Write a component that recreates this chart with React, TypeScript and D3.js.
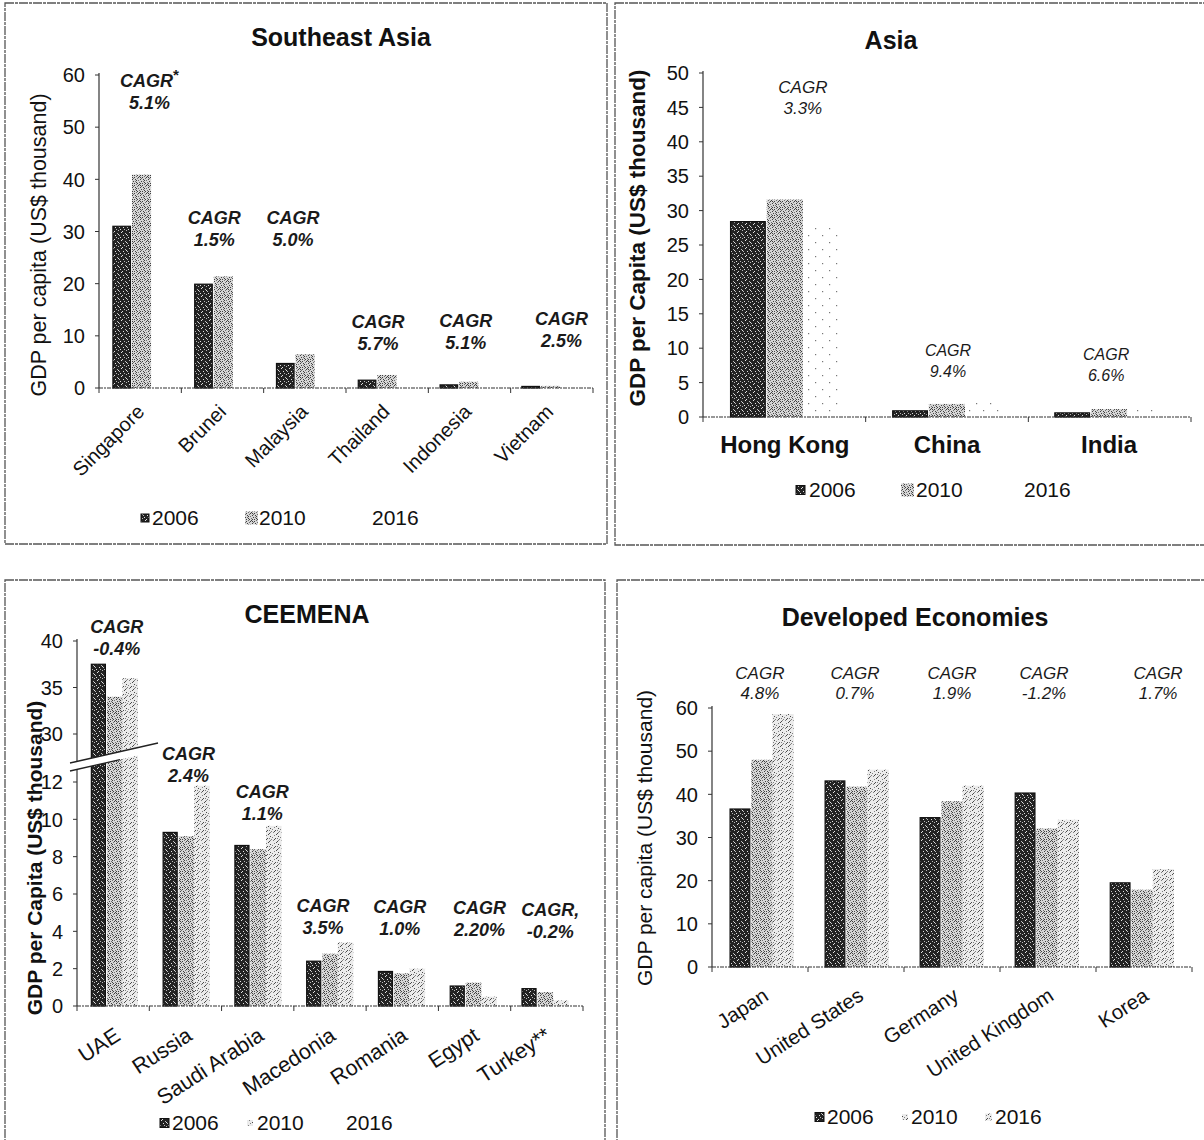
import React from "react";
import * as d3 from "d3";

const FONT = "'Liberation Sans', Arial, Helvetica, sans-serif";
const years = ["2006", "2010", "2016"];

// ---------- Southeast Asia ----------
const seaCategories = ["Singapore", "Brunei", "Malaysia", "Thailand", "Indonesia", "Vietnam"];
const sea2006 = [31.0, 19.9, 4.7, 1.5, 0.6, 0.3];
const sea2010 = [40.9, 21.4, 6.5, 2.5, 1.2, 0.4];
const sea2016 = [51.0, 23.0, 7.7, 2.6, 1.4, 0.9]; // blank (unprinted) in the source
const seaCagrHead = ["CAGR", "CAGR", "CAGR", "CAGR", "CAGR", "CAGR"];
const seaCagr = ["5.1%", "1.5%", "5.0%", "5.7%", "5.1%", "2.5%"];
const seaTicks = [0, 10, 20, 30, 40, 50, 60];

// ---------- Asia ----------
const asiaCategories = ["Hong Kong", "China", "India"];
const asia2006 = [28.4, 0.9, 0.6];
const asia2010 = [31.6, 1.9, 1.15];
const asia2016 = [28.0, 2.1, 1.1];
const asiaCagrHead = ["CAGR", "CAGR", "CAGR"];
const asiaCagr = ["3.3%", "9.4%", "6.6%"];
const asiaTicks = [0, 5, 10, 15, 20, 25, 30, 35, 40, 45, 50];

// ---------- CEEMENA ----------
const ceeCategories = ["UAE", "Russia", "Saudi Arabia", "Macedonia", "Romania", "Egypt", "Turkey**"];
const cee2006 = [37.5, 9.3, 8.6, 2.4, 1.85, 1.07, 0.93];
const cee2010 = [34.0, 9.1, 8.4, 2.8, 1.75, 1.25, 0.75];
const cee2016 = [36.0, 11.8, 9.65, 3.4, 2.0, 0.5, 0.3];
const ceeCagrHead = ["CAGR", "CAGR", "CAGR", "CAGR", "CAGR", "CAGR", "CAGR,"];
const ceeCagr = ["-0.4%", "2.4%", "1.1%", "3.5%", "1.0%", "2.20%", "-0.2%"];
const ceeTicks = [0, 2, 4, 6, 8, 10, 12, 30, 35, 40];

// ---------- Developed Economies ----------
const devCategories = ["Japan", "United States", "Germany", "United Kingdom", "Korea"];
const dev2006 = [36.6, 43.1, 34.6, 40.3, 19.5];
const dev2010 = [48.0, 41.8, 38.4, 32.1, 17.9];
const dev2016 = [58.6, 45.7, 42.0, 34.1, 22.7];
const devCagrHead = ["CAGR", "CAGR", "CAGR", "CAGR", "CAGR"];
const devCagr = ["4.8%", "0.7%", "1.9%", "-1.2%", "1.7%"];
const devTicks = [0, 10, 20, 30, 40, 50, 60];

// ---------- texture tiles (style only) ----------
const speck06 = [[1, 0], [5, 1], [3, 3], [7, 3], [0, 5], [4, 5], [2, 7], [6, 6], [6, 2]];
const speck10 = [
  [0, 0], [3, 0], [6, 1], [1, 2], [4, 3], [7, 3], [2, 4], [5, 5], [0, 6], [3, 6],
  [6, 7], [1, 7], [7, 5], [4, 1], [2, 1], [5, 2], [0, 4], [4, 7],
];
const speck16 = [[1, 0], [5, 1], [2, 3], [6, 4], [0, 5], [3, 6], [7, 7], [4, 2], [6, 0], [2, 7], [5, 6]];
const speckFaint = [[3, 4], [10, 11]];

type Ann = { dx: number; y: number; size?: number };
type LegendItem = { label: string; sx: number | null; ss: number; fill: string; tx: number };

interface PanelProps {
  frame: [number, number, number, number];
  title: string;
  titleX: number;
  titleY: number;
  categories: string[];
  series: number[][];
  fills: string[];
  strokes: string[];
  y: (v: number) => number;
  ticks: number[];
  axisX: number;
  axisEnd: number;
  axisTop: number;
  padInner: number;
  padOuter: number;
  tickSize: number;
  tickGap: number;
  yTitle: string;
  yTitleX: number;
  yTitleY: number;
  yTitleSize: number;
  yTitleWeight: string;
  catAngle: number;
  catDx: number;
  catDy: number;
  catSize: number;
  catWeight: string;
  cagrHead: string[];
  cagrVal: string[];
  cagrPos: Ann[];
  cagrSize: number;
  cagrWeight: string;
  cagrGap: number;
  starFirst?: boolean;
  legend: LegendItem[];
  legendY: number;
  legendSize: number;
  children?: React.ReactNode;
}

function Panel(p: PanelProps) {
  const x0 = d3
    .scaleBand<string>()
    .domain(p.categories)
    .range([p.axisX, p.axisEnd])
    .paddingInner(p.padInner)
    .paddingOuter(p.padOuter);
  const x1 = d3.scaleBand<string>().domain(years).range([0, x0.bandwidth()]);
  const base = p.y(0);
  const n = p.categories.length;
  const catStep = (p.axisEnd - p.axisX) / n;
  const [fx, fy, fw, fh] = p.frame;
  return (
    <g fontFamily={FONT} fill="#111">
      <rect x={fx} y={fy} width={fw} height={fh} fill="none" stroke="#555" strokeWidth={1.3} strokeDasharray="9 1 3 1" />
      <text x={p.titleX} y={p.titleY} textAnchor="middle" fontSize={25} fontWeight="bold">
        {p.title}
      </text>
      <text
        transform={`translate(${p.yTitleX},${p.yTitleY}) rotate(-90)`}
        textAnchor="middle"
        dy="0.35em"
        fontSize={p.yTitleSize}
        fontWeight={p.yTitleWeight}
      >
        {p.yTitle}
      </text>
      {/* bars */}
      {p.categories.map((c, i) =>
        years.map((yr, j) => {
          const v = p.series[j][i];
          const bx = (x0(c) as number) + (x1(yr) as number);
          const w = x1.bandwidth() - (j === 0 ? 1.5 : 0);
          return (
            <rect
              key={c + yr}
              x={bx}
              y={p.y(v)}
              width={w}
              height={base - p.y(v)}
              fill={p.fills[j]}
              stroke={p.strokes[j]}
              strokeWidth={p.strokes[j] === "none" ? 0 : 1.2}
            />
          );
        })
      )}
      {/* y axis */}
      <line x1={p.axisX} x2={p.axisX} y1={p.axisTop} y2={base} stroke="#333" strokeWidth={1.2} />
      {p.ticks.map((t) => (
        <g key={"t" + t}>
          <line x1={p.axisX - 4} x2={p.axisX} y1={p.y(t)} y2={p.y(t)} stroke="#333" strokeWidth={1} />
          <text x={p.axisX - p.tickGap} y={p.y(t)} dy="0.36em" textAnchor="end" fontSize={p.tickSize}>
            {t}
          </text>
        </g>
      ))}
      {/* x axis */}
      <line x1={p.axisX} x2={p.axisEnd} y1={base} y2={base} stroke="#333" strokeWidth={1.2} strokeDasharray="4 1 2 1" />
      {d3.range(n + 1).map((k) => (
        <line
          key={"xt" + k}
          x1={p.axisX + k * catStep}
          x2={p.axisX + k * catStep}
          y1={base}
          y2={base + 5}
          stroke="#333"
          strokeWidth={1}
        />
      ))}
      {/* category labels */}
      {p.categories.map((c) => {
        const cx = (x0(c) as number) + x0.bandwidth() / 2;
        return p.catAngle === 0 ? (
          <text key={"cl" + c} x={cx + p.catDx} y={base + p.catDy} textAnchor="middle" fontSize={p.catSize} fontWeight={p.catWeight}>
            {c}
          </text>
        ) : (
          <text
            key={"cl" + c}
            transform={`translate(${cx + p.catDx},${base + p.catDy}) rotate(${p.catAngle})`}
            textAnchor="end"
            fontSize={p.catSize}
            fontWeight={p.catWeight}
          >
            {c}
          </text>
        );
      })}
      {/* CAGR annotations */}
      {p.categories.map((c, i) => {
        const cx = (x0(c) as number) + x0.bandwidth() / 2 + p.cagrPos[i].dx;
        const fs = p.cagrPos[i].size ?? p.cagrSize;
        return (
          <text key={"cg" + c} x={cx} y={p.cagrPos[i].y} textAnchor="middle" fontSize={fs} fontStyle="italic" fontWeight={p.cagrWeight} fill="#1a1a1a">
            <tspan x={cx}>
              {p.cagrHead[i]}
              {p.starFirst && i === 0 ? (
                <tspan dy={-7} fontSize={fs * 0.85} fontStyle="normal">
                  *
                </tspan>
              ) : null}
            </tspan>
            <tspan x={cx} y={p.cagrPos[i].y + p.cagrGap}>
              {p.cagrVal[i]}
            </tspan>
          </text>
        );
      })}
      {/* legend */}
      {p.legend.map((l) => (
        <g key={"lg" + l.label}>
          {l.sx !== null ? (
            <rect
              x={l.sx}
              y={p.legendY - 7 - l.ss / 2}
              width={l.ss}
              height={l.ss}
              fill={l.fill}
              stroke={l.label === "2006" ? "#111" : "none"}
              strokeWidth={1}
            />
          ) : null}
          <text x={l.tx} y={p.legendY} fontSize={p.legendSize}>
            {l.label}
          </text>
        </g>
      ))}
      {p.children}
    </g>
  );
}

function Defs() {
  return (
    <defs>
      <pattern id="p06" width={8} height={8} patternUnits="userSpaceOnUse">
        <rect width={8} height={8} fill="#232323" />
        {speck06.map(([a, b], i) => (
          <rect key={i} x={a} y={b} width={1} height={1} fill={i % 2 ? "#b8b8b8" : "#e2e2e2"} />
        ))}
      </pattern>
      <pattern id="p10" width={8} height={8} patternUnits="userSpaceOnUse">
        <rect width={8} height={8} fill="#d6d6d6" />
        {speck10.map(([a, b], i) => (
          <rect key={i} x={a} y={b} width={1} height={1} fill={i % 3 ? "#404040" : "#707070"} />
        ))}
      </pattern>
      <pattern id="p16" width={8} height={8} patternUnits="userSpaceOnUse">
        <rect width={8} height={8} fill="#ebebeb" />
        {speck16.map(([a, b], i) => (
          <rect key={i} x={a} y={b} width={1} height={1} fill={i % 2 ? "#4a4a4a" : "#808080"} />
        ))}
      </pattern>
      <pattern id="pFaint" width={14} height={14} patternUnits="userSpaceOnUse">
        <rect width={14} height={14} fill="#ffffff" />
        {speckFaint.map(([a, b], i) => (
          <rect key={i} x={a} y={b} width={1.2} height={1.2} fill="#777" />
        ))}
      </pattern>
    </defs>
  );
}

export default function App() {
  const ySea = d3.scaleLinear().domain([0, 60]).range([388, 75]);
  const yAsia = d3.scaleLinear().domain([0, 50]).range([417, 73]);
  const yCee = d3.scaleLinear().domain([0, 12, 30, 40]).range([1006, 782, 734, 641]);
  const yDev = d3.scaleLinear().domain([0, 60]).range([967, 708]);

  return (
    <svg
      width={1204}
      height={1140}
      viewBox="0 0 1204 1140"
      style={{ position: "absolute", left: 0, top: 0, display: "block", background: "#fff" }}
    >
      <Defs />
      <rect width={1204} height={1140} fill="#fff" />

      <Panel
        frame={[5, 3, 602, 541]}
        title="Southeast Asia"
        titleX={341}
        titleY={46}
        categories={seaCategories}
        series={[sea2006, sea2010, sea2016]}
        fills={["url(#p06)", "url(#p10)", "none"]}
        strokes={["#111", "none", "none"]}
        y={ySea}
        ticks={seaTicks}
        axisX={99}
        axisEnd={593}
        axisTop={73}
        padInner={0.3}
        padOuter={0.17}
        tickSize={20}
        tickGap={14}
        yTitle="GDP per capita (US$ thousand)"
        yTitleX={38}
        yTitleY={245}
        yTitleSize={21.5}
        yTitleWeight="normal"
        catAngle={-45}
        catDx={4}
        catDy={25}
        catSize={20}
        catWeight="normal"
        cagrHead={seaCagrHead}
        cagrVal={seaCagr}
        cagrPos={[
          { dx: 8, y: 87 },
          { dx: -9, y: 224 },
          { dx: -12, y: 224 },
          { dx: -9, y: 328 },
          { dx: -3, y: 327 },
          { dx: 11, y: 325 },
        ]}
        cagrSize={18}
        cagrWeight="bold"
        cagrGap={22}
        starFirst
        legend={[
          { label: "2006", sx: 141, ss: 8, fill: "url(#p06)", tx: 152 },
          { label: "2010", sx: 245, ss: 13, fill: "url(#p10)", tx: 259 },
          { label: "2016", sx: null, ss: 0, fill: "none", tx: 372 },
        ]}
        legendY={525}
        legendSize={21}
      />

      <Panel
        frame={[615, 3, 600, 542]}
        title="Asia"
        titleX={891}
        titleY={49}
        categories={asiaCategories}
        series={[asia2006, asia2010, asia2016]}
        fills={["url(#p06)", "url(#p10)", "url(#pFaint)"]}
        strokes={["#111", "none", "none"]}
        y={yAsia}
        ticks={asiaTicks}
        axisX={703}
        axisEnd={1191}
        axisTop={71}
        padInner={0.33}
        padOuter={0.17}
        tickSize={20}
        tickGap={14}
        yTitle="GDP per Capita (US$ thousand)"
        yTitleX={637}
        yTitleY={238}
        yTitleSize={22.5}
        yTitleWeight="bold"
        catAngle={0}
        catDx={0}
        catDy={36}
        catSize={24}
        catWeight="bold"
        cagrHead={asiaCagrHead}
        cagrVal={asiaCagr}
        cagrPos={[
          { dx: 18, y: 93, size: 17 },
          { dx: 1, y: 356 },
          { dx: -3, y: 360 },
        ]}
        cagrSize={16}
        cagrWeight="normal"
        cagrGap={21}
        legend={[
          { label: "2006", sx: 796, ss: 9, fill: "url(#p06)", tx: 809 },
          { label: "2010", sx: 901, ss: 13, fill: "url(#p10)", tx: 916 },
          { label: "2016", sx: null, ss: 0, fill: "none", tx: 1024 },
        ]}
        legendY={497}
        legendSize={21}
      />

      <Panel
        frame={[5, 580, 600, 575]}
        title="CEEMENA"
        titleX={307}
        titleY={623}
        categories={ceeCategories}
        series={[cee2006, cee2010, cee2016]}
        fills={["url(#p06)", "url(#p10)", "url(#p16)"]}
        strokes={["#111", "none", "none"]}
        y={yCee}
        ticks={ceeTicks}
        axisX={77}
        axisEnd={583}
        axisTop={639}
        padInner={0.35}
        padOuter={0.2}
        tickSize={20}
        tickGap={14}
        yTitle="GDP per Capita (US$ thousand)"
        yTitleX={35}
        yTitleY={858}
        yTitleSize={21}
        yTitleWeight="bold"
        catAngle={-33}
        catDx={7}
        catDy={33}
        catSize={21.5}
        catWeight="normal"
        cagrHead={ceeCagrHead}
        cagrVal={ceeCagr}
        cagrPos={[
          { dx: 2, y: 633 },
          { dx: 2, y: 760 },
          { dx: 4, y: 798 },
          { dx: -7, y: 912 },
          { dx: -2, y: 913 },
          { dx: 6, y: 914 },
          { dx: 5, y: 916 },
        ]}
        cagrSize={18}
        cagrWeight="bold"
        cagrGap={22}
        legend={[
          { label: "2006", sx: 160, ss: 9, fill: "url(#p06)", tx: 172 },
          { label: "2010", sx: 247, ss: 6, fill: "url(#p16)", tx: 257 },
          { label: "2016", sx: null, ss: 0, fill: "none", tx: 346 },
        ]}
        legendY={1130}
        legendSize={21}
      >
        {/* axis break */}
        <polygon points="70,763 158,743 158,751 70,771" fill="#fff" />
        <line x1={70} y1={763} x2={158} y2={743} stroke="#222" strokeWidth={1.3} />
        <line x1={70} y1={771} x2={120} y2={759.6} stroke="#222" strokeWidth={1.3} />
      </Panel>

      <Panel
        frame={[617, 580, 600, 575]}
        title="Developed Economies"
        titleX={915}
        titleY={626}
        categories={devCategories}
        series={[dev2006, dev2010, dev2016]}
        fills={["url(#p06)", "url(#p10)", "url(#p16)"]}
        strokes={["#111", "none", "none"]}
        y={yDev}
        ticks={devTicks}
        axisX={712}
        axisEnd={1192}
        axisTop={706}
        padInner={0.33}
        padOuter={0.19}
        tickSize={20}
        tickGap={14}
        yTitle="GDP per capita (US$ thousand)"
        yTitleX={645}
        yTitleY={838}
        yTitleSize={21}
        yTitleWeight="normal"
        catAngle={-33}
        catDx={8}
        catDy={32}
        catSize={20.5}
        catWeight="normal"
        cagrHead={devCagrHead}
        cagrVal={devCagr}
        cagrPos={[
          { dx: -2, y: 679 },
          { dx: -2, y: 679 },
          { dx: 0, y: 679 },
          { dx: -3, y: 679 },
          { dx: 16, y: 679 },
        ]}
        cagrSize={17}
        cagrWeight="normal"
        cagrGap={20}
        legend={[
          { label: "2006", sx: 815, ss: 9, fill: "url(#p06)", tx: 827 },
          { label: "2010", sx: 902, ss: 6, fill: "url(#p16)", tx: 911 },
          { label: "2016", sx: 985, ss: 7, fill: "url(#p16)", tx: 995 },
        ]}
        legendY={1124}
        legendSize={21}
      />
    </svg>
  );
}
